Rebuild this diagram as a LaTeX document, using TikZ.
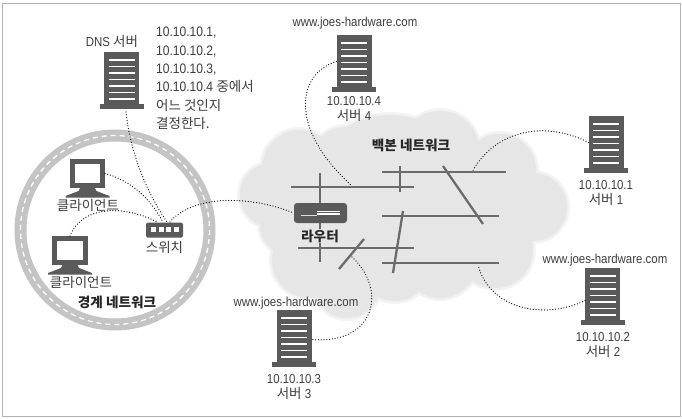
\documentclass[tikz,border=0pt]{standalone}
\usepackage{fontspec}
\setmainfont{Noto Sans CJK KR}
\newfontfamily\latinnarrow[FakeStretch=0.88]{Liberation Sans}
\definecolor{ink}{HTML}{5A5A5A}
\definecolor{txt}{HTML}{3E3E3E}
\definecolor{cloudc}{HTML}{E6E6E6}
\definecolor{ringc}{HTML}{C4C4C4}
\newcommand{\kr}[1]{{\rmfamily\fontsize{13.5}{\baselineskip}\selectfont #1}}
\tikzset{
  serverbody/.style={fill=ink,draw=none,minimum width=35pt,minimum height=53pt,inner sep=0pt,outer sep=0pt},
  monitor/.style={fill=white,draw=ink,line width=5pt,inner sep=0pt,outer sep=2.5pt},
  switchbox/.style={fill=ink,draw=none,rounded corners=1.5pt,minimum width=37pt,minimum height=15pt,inner sep=0pt},
  routerbox/.style={fill=ink,draw=none,rounded corners=3pt,minimum width=53pt,minimum height=20pt,inner sep=0pt},
  lab/.style={text=txt,font=\latinnarrow\fontsize{13}{15.5}\selectfont,inner sep=0pt,align=center},
  urllab/.style={text=txt,font=\latinnarrow\fontsize{13}{14}\selectfont,inner sep=0pt},
  boldlab/.style={text=black!85,font=\bfseries\fontsize{13.6}{15}\selectfont,inner sep=0pt},
  netline/.style={draw=ink!90,line width=2.3pt},
  dotc/.style={draw=black,line width=1.25pt,line cap=round,dash pattern=on 0pt off 2.8pt},
}
\newcommand{\srv}[3]{%
  \node[serverbody] (#1) at (#2,#3+26.5) {};
  \fill[ink] (#2-22,#3+52) rectangle (#2+22,#3+57);
  \foreach \i in {0,...,6}
    \draw[white,line width=1.5pt] (#2-13,#3+8+\i*6.5) -- (#2+13,#3+8+\i*6.5);
}
\newcommand{\cmp}[5]{% name, cx, top, halfw, basehalf
  \node[monitor,minimum width=2*#4*1pt-5pt,minimum height=24pt] (#1) at (#2,#3+14.5) {};
  \fill[ink] (#2-7,#3+28) -- (#2+7,#3+28) -- (#2+9,#3+32) -- (#2+#5,#3+37) -- (#2+#5,#3+38.5) -- (#2-#5,#3+38.5) -- (#2-#5,#3+37) -- (#2-9,#3+32) -- cycle;
}
\newcommand{\cloudshape}[2]{%
  \fill[#2]
    (300,168) circle (38+#1) (345,160) circle (33+#1) (395,150) circle (30+#1)
    (440,150) circle (39+#1) (500,170) circle (36+#1) (533,207) circle (34+#1)
    (495,250) circle (38+#1) (440,260) circle (38+#1) (395,265) circle (36+#1)
    (347,285) circle (33+#1) (310,260) circle (38+#1) (272,195) circle (32+#1)
    (290,225) circle (30+#1) (390,200) circle (85+#1) (470,205) circle (60+#1);
}
\begin{document}
\begin{tikzpicture}[x=1pt,y=-1pt]
\useasboundingbox (0,0) rectangle (682,418);
\fill[white] (0,0) rectangle (682,418);
\draw[black!30,line width=0.8pt] (2,3) rectangle (680,416);

% cloud
\cloudshape{3}{black!4}
\cloudshape{1.5}{black!6}
\cloudshape{0}{cloudc}

% boundary network ring
\draw[ringc,line width=12pt] (115,230) circle (94.5);
\draw[white,line width=1.3pt,dash pattern=on 5pt off 4pt] (115,230) circle (94.5);

% network lines
\coordinate (h1a) at (291,187); \coordinate (h1b) at (414,187);
\coordinate (h2a) at (382,172); \coordinate (h2b) at (506,172);
\coordinate (h3a) at (382,216); \coordinate (h3b) at (499,216);
\coordinate (h4a) at (298,248); \coordinate (h4b) at (414,248);
\coordinate (h5a) at (382,263); \coordinate (h5b) at (499,263);
\coordinate (v1a) at (320,173); \coordinate (v1b) at (320,262);
\coordinate (v3a) at (400,166); \coordinate (v3b) at (400,192);
\coordinate (d1a) at (443,166); \coordinate (d1b) at (483,224);
\coordinate (d2a) at (364,239); \coordinate (d2b) at (339,269);
\coordinate (d3a) at (403,211); \coordinate (d3b) at (393,273);
\foreach \a/\b in {h1a/h1b,h2a/h2b,h3a/h3b,h4a/h4b,h5a/h5b,v1a/v1b,v3a/v3b,d1a/d1b,d2a/d2b,d3a/d3b}
  \draw[netline] (\a) -- (\b);

% router
\node[routerbox] (router) at (320.5,213) {};
\fill[white] (317,210.5) rectangle (340,214.5);
\draw[ink,line width=0.7pt] (317,212.5) -- (340,212.5);
\draw[white!80!ink,line width=0.7pt] (301,215.5) -- (317,215.5);
\node[boldlab,fill=cloudc,inner xsep=1pt,inner ysep=1pt] (routerlab) at (320,236) {라우터};
\node[boldlab] (backbone) at (411,145) {백본 네트워크};

% servers
\srv{dns}{121.5}{52}
\srv{s4}{354}{35}
\srv{s1}{606}{116}
\srv{s2}{602.5}{268}
\srv{s3}{294}{310}

% clients and switch
\cmp{c1}{87.5}{159}{17.5}{22}
\cmp{c2}{70}{236}{18}{22}
\node[switchbox] (sw) at (164.5,230) {};
\foreach \i in {0,1,2,3}
  \fill[white] (151+\i*7.5,227) rectangle (156+\i*7.5,232);

% connectors
\coordinate (swt1) at (167,222);
\coordinate (swt2) at (163,222);
\coordinate (swt3) at (157,222);
\coordinate (swt4) at (170,222);
\coordinate (dnsb) at (126,112);
\coordinate (s3p) at (352,257);
\coordinate (s4p) at (352,186);
\coordinate (s1p) at (472,172);
\coordinate (s2p) at (478,265);
\draw[dotc] (dnsb) .. controls (130,150) and (145,190) .. (swt1);
\draw[dotc] (c1.east) .. controls (130,180) and (150,198) .. (swt2);
\draw[dotc] (c2.north) .. controls (82,205) and (125,205) .. (swt3);
\draw[dotc] (swt4) .. controls (192,195) and (250,195) .. (router.west);
\draw[dotc] (s4.west) .. controls (300,72) and (285,125) .. (s4p);
\draw[dotc] (s1.west) .. controls (545,120) and (495,130) .. (s1p);
\draw[dotc] ([yshift=-6pt]s2.west) .. controls (545,320) and (490,310) .. (s2p);
\draw[dotc] (s3p) .. controls (388,290) and (375,345) .. ([yshift=-3pt]s3.east);

% labels
\node[lab] (dnslab) at (112,41) {DNS \kr{서버}};
\node[lab,align=left,anchor=north west,font=\latinnarrow\fontsize{13.7}{18.4}\selectfont] (note) at (156,27) {10.10.10.1,\\10.10.10.2,\\10.10.10.3,\\10.10.10.4 \kr{중에서}\\\kr{어느 것인지}\\\kr{결정한다.}};
\node[urllab] (u4) at (355,23) {www.joes-hardware.com};
\node[lab] (l4) at (354,109) {10.10.10.4\\\kr{서버} 4};
\node[lab] (l1) at (606,193) {10.10.10.1\\\kr{서버} 1};
\node[urllab] (u2) at (605,260) {www.joes-hardware.com};
\node[lab] (l2) at (603,345) {10.10.10.2\\\kr{서버} 2};
\node[urllab] (u3) at (296,303) {www.joes-hardware.com};
\node[lab] (l3) at (294,387) {10.10.10.3\\\kr{서버} 3};
\node[lab] (cl1) at (88,205) {\kr{클라이언트}};
\node[lab] (cl2) at (81,282) {\kr{클라이언트}};
\node[lab] (swl) at (164.5,247) {\kr{스위치}};
\node[boldlab] (edge) at (117,302) {경계 네트워크};
\end{tikzpicture}
\end{document}
